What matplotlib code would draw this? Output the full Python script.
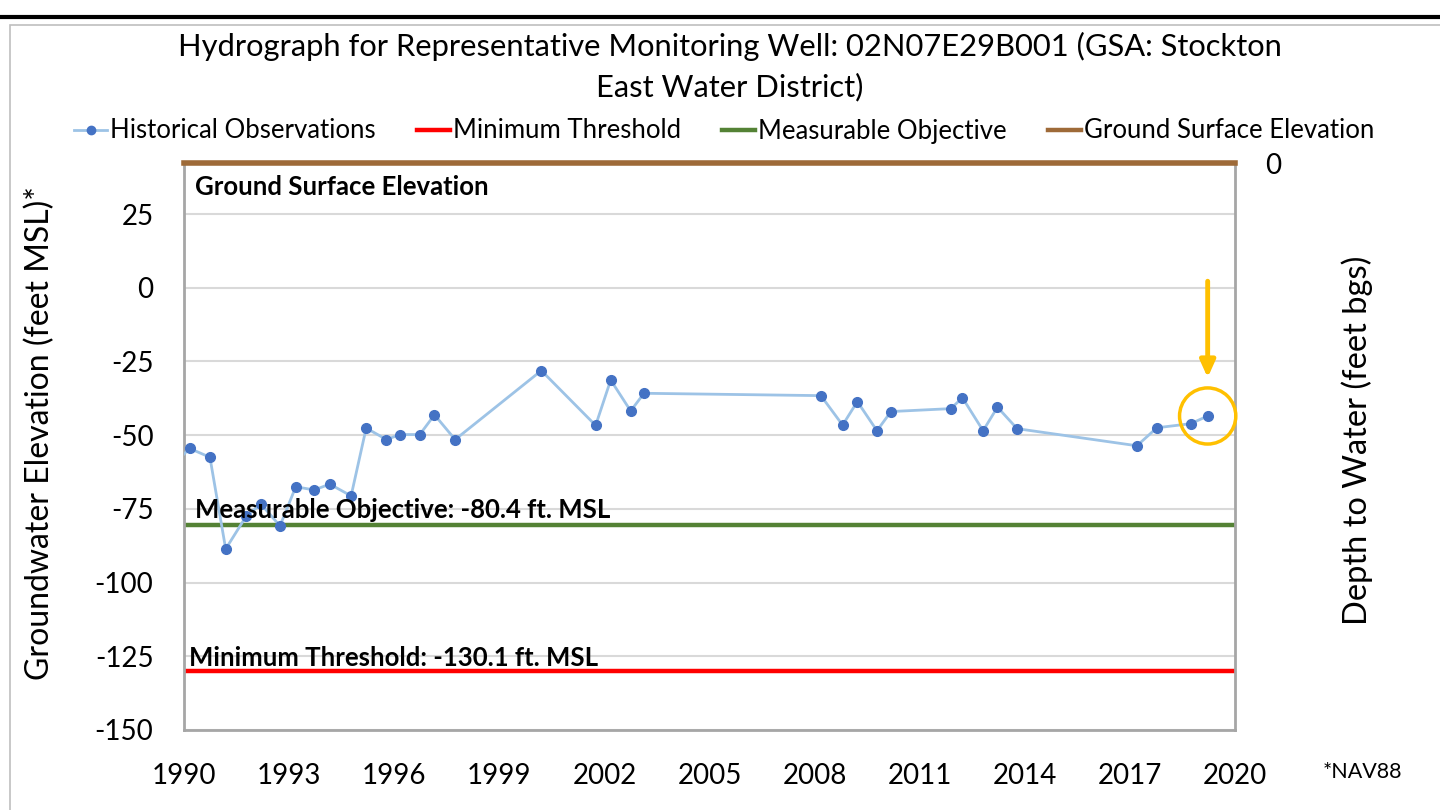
import matplotlib
matplotlib.use("Agg")
import matplotlib.pyplot as plt
from matplotlib.lines import Line2D
from matplotlib.patches import Rectangle, Ellipse

plt.rcParams['font.family'] = ['Lato', 'DejaVu Sans']

years = [1989.70, 1990.16, 1990.74, 1991.19, 1991.78, 1992.20, 1992.74, 1993.19, 1993.72,
         1994.16, 1994.77, 1995.20, 1995.78, 1996.16, 1996.73, 1997.15, 1997.74,
         2000.20, 2001.75, 2002.18, 2002.75, 2003.13, 2008.18, 2008.80, 2009.22,
         2009.78, 2010.18, 2011.89, 2012.22, 2012.81, 2013.22, 2013.78, 2017.20,
         2017.77, 2018.74, 2019.22]
elev = [-60.0, -54.5, -57.5, -88.6, -77.4, -73.4, -80.8, -67.5, -68.6,
        -66.6, -70.6, -47.6, -51.5, -49.8, -49.8, -43.1, -51.5,
        -28.1, -46.7, -31.3, -41.8, -35.8, -36.6, -46.6, -38.6,
        -48.5, -42.0, -41.0, -37.3, -48.5, -40.5, -47.8, -53.6,
        -47.5, -46.1, -43.5]

minimum_threshold = -130.1
measurable_objective = -80.4
ground_surface = 42.3
highlight_year = 2019.22
highlight_value = -43.5

yticks = [-150, -125, -100, -75, -50, -25, 0, 25]
xticks = [1990, 1993, 1996, 1999, 2002, 2005, 2008, 2011, 2014, 2017, 2020]

c_obs_line = '#9DC3E6'
c_obs_mark = '#4472C4'
c_red = '#FF0000'
c_green = '#548235'
c_brown = '#9E6A38'
c_orange = '#FFC000'

fig = plt.figure(figsize=(14.4, 8.1), dpi=100)

# frame lines of page
fig.add_artist(Line2D([0, 1], [1 - 17/810, 1 - 17/810], color='black', lw=3, transform=fig.transFigure))
fig.add_artist(Rectangle((10/1440, -0.01), 1.0, 1 - 25/810 + 0.01, transform=fig.transFigure,
                         fill=False, edgecolor='#BFBFBF', lw=1.2))

ax = fig.add_axes([184/1440, 1 - 730/810, (1235 - 184)/1440, (730 - 163)/810])
ax.set_xlim(1990, 2020)
ax.set_ylim(-150, ground_surface)

ax.set_yticks(yticks)
ax.set_yticklabels([str(v) for v in yticks])
ax.set_xticks(xticks)
ax.set_xticklabels([str(v) for v in xticks])
ax.grid(axis='y', color='#D9D9D9', lw=1.5)
ax.set_axisbelow(True)
ax.tick_params(axis='y', length=0, pad=22, labelsize=20)
ax.tick_params(axis='x', length=0, pad=24, labelsize=20)
for s in ['left', 'bottom', 'right']:
    ax.spines[s].set_color('#A6A6A6')
    ax.spines[s].set_linewidth(2)
ax.spines['top'].set_visible(False)

ax.plot(years, elev, color=c_obs_line, lw=2, marker='o', markersize=7,
        markerfacecolor=c_obs_mark, markeredgecolor=c_obs_mark, zorder=3)
ax.axhline(minimum_threshold, color=c_red, lw=3.2, zorder=2)
ax.axhline(measurable_objective, color=c_green, lw=3.2, zorder=2)
ax.axhline(ground_surface, color=c_brown, lw=4, zorder=4, clip_on=False)

ax.text(1990.3, 34, 'Ground Surface Elevation', fontsize=18.5, fontweight='bold', va='center', ha='left')
ax.text(1990.3, -75.5, 'Measurable Objective: -80.4 ft. MSL', fontsize=18.5, fontweight='bold',
        va='center', ha='left', zorder=5)
ax.text(1990.15, -125.5, 'Minimum Threshold: -130.1 ft. MSL', fontsize=18.5, fontweight='bold',
        va='center', ha='left', zorder=5)

# highlight circle and arrow
ax.add_patch(Ellipse((highlight_year, highlight_value), width=56/34.87, height=56/2.943,
                     fill=False, edgecolor=c_orange, lw=2.5, zorder=6, clip_on=False))
ax.annotate('', xy=(highlight_year, -30.5), xytext=(highlight_year, 2.2),
            arrowprops=dict(arrowstyle='-|>,head_width=0.45,head_length=1.0', color=c_orange, lw=3.5,
                            shrinkA=0, shrinkB=0), zorder=6)

# right axis
ax2 = ax.twinx()
ax2.set_ylim(ground_surface + 150, 0)
ax2.set_yticks([0])
ax2.set_yticklabels(['0'])
ax2.tick_params(axis='y', length=0, pad=22, labelsize=20)
for s in ['left', 'bottom', 'right', 'top']:
    ax2.spines[s].set_visible(False)

fig.text(40/1440, 1 - 433/810, 'Groundwater Elevation (feet MSL)*', rotation=90, fontsize=23,
         ha='center', va='center')
fig.text(1357/1440, 1 - 440/810, 'Depth to Water (feet bgs)', rotation=90, fontsize=23.5,
         ha='center', va='center')
fig.text(1362/1440, 1 - 772/810, '*NAV88', fontsize=15.5, ha='center', va='center')

fig.text(730/1440, 1 - 46/810, 'Hydrograph for Representative Monitoring Well: 02N07E29B001 (GSA: Stockton',
         fontsize=22.2, ha='center', va='center')
fig.text(730/1440, 1 - 87/810, 'East Water District)', fontsize=22.2, ha='center', va='center')

handles = [
    Line2D([], [], color=c_obs_line, lw=2, marker='o', markersize=6, markerfacecolor=c_obs_mark,
           markeredgecolor=c_obs_mark),
    Line2D([], [], color=c_red, lw=3.2),
    Line2D([], [], color=c_green, lw=3.2),
    Line2D([], [], color=c_brown, lw=3.2),
]
labels = ['Historical Observations', 'Minimum Threshold', 'Measurable Objective', 'Ground Surface Elevation']
fig.legend(handles, labels, loc='center', bbox_to_anchor=(724/1440, 1 - 131/810), ncol=4, frameon=False,
           fontsize=18.5, handlelength=1.3, handletextpad=0.1, columnspacing=1.6)

fig.savefig('out.png', dpi=100)
